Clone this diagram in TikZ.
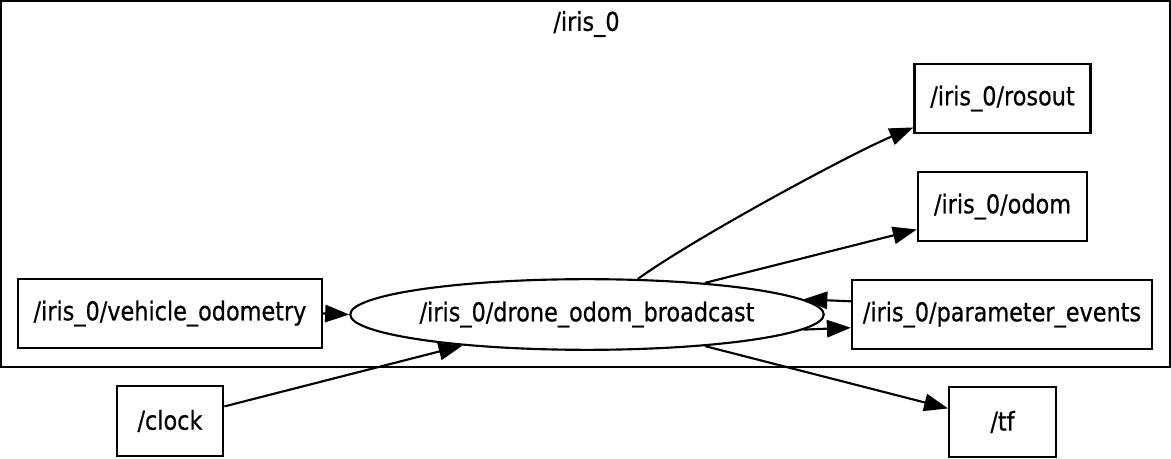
\documentclass[tikz,border=0pt]{standalone}
\usepackage{fontspec}
\setmainfont{DejaVu Sans}[FakeStretch=0.86,FakeBold=0.6]
\usepackage{tikz}
\usetikzlibrary{arrows.meta}
\usetikzlibrary{shapes.geometric}
\tikzset{
   every path/.style={>={Triangle[length=18pt,width=13pt]}},
   topic/.style={draw,rectangle,line width=1.6pt,minimum height=52pt,inner sep=0pt,
                 font=\fontsize{19.5}{22}\selectfont},
   proc/.style={draw,ellipse,line width=1.6pt,minimum width=354pt,minimum height=53pt,inner sep=0pt,
                 font=\fontsize{19.5}{22}\selectfont},
   clusterbox/.style={draw,line width=1.6pt},
   clusterlabel/.style={inner sep=0pt,font=\fontsize{19.5}{22}\selectfont},
   pub/.style={->,line width=1.6pt},
}

\begin{document}
\begin{tikzpicture}[x=0.75pt,y=-0.75pt]

        \useasboundingbox (0,0) rectangle (1171,459);

        % namespace cluster
        \draw[clusterbox] (1,1) rectangle (1170,367);
        \node[clusterlabel] (ns) at (586.5,24) {/iris\_0};

        \node[topic,minimum width=228pt] (vodom)   at ( 170,  313.5) {/iris\_0/vehicle\_odometry};
        \node[proc]                      (bcast)   at ( 587,  314.5) {/iris\_0/drone\_odom\_broadcast};
        \node[topic,minimum width=132pt] (rosout)  at (1002.5, 98.5) {/iris\_0/rosout};
        \node[topic,minimum width=127pt] (odom)    at (1002.5,206.5) {/iris\_0/odom};
        \node[topic,minimum width=225pt] (pevents) at (1002,  314.5) {/iris\_0/parameter\_events};

        \node[topic,minimum width=80pt]  (clock)   at ( 170,  421) {/clock};
        \node[topic,minimum width=80pt]  (tf)      at (1002.5,422) {/tf};

        \draw[pub] (vodom.east) -- (bcast.west);
        \draw[pub] (clock.15) -- (bcast.194);

        \draw[pub] (bcast.35) .. controls +(60,-43) and +(-60,25) .. (rosout.198);
        \draw[pub] (bcast.15) -- (odom.195);
        \draw[pub] (pevents.175) -- (bcast.4);
        \draw[pub] (bcast.356.5) -- (pevents.185);
        \draw[pub] (bcast.345) -- (tf.166);

      \end{tikzpicture}
\end{document}
